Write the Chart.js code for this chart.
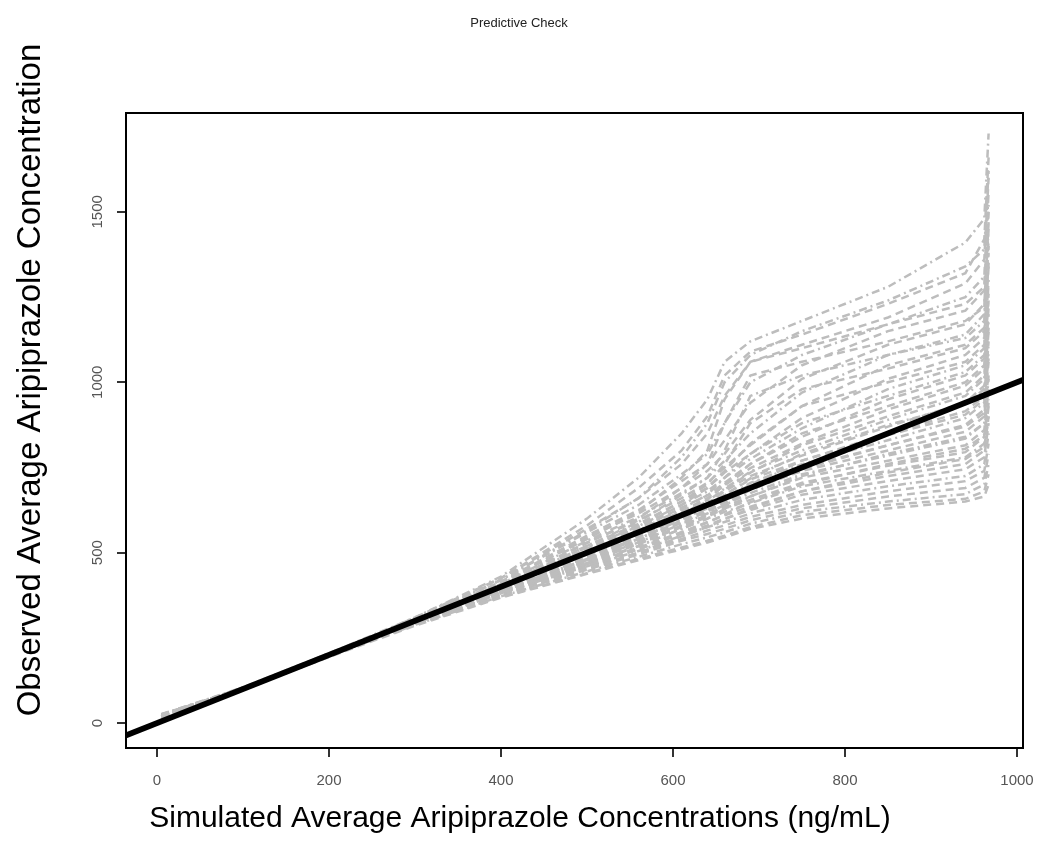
<!DOCTYPE html>
<html>
<head>
<meta charset="utf-8">
<title>Predictive Check</title>
<script src="https://cdn.jsdelivr.net/npm/chart.js@4.4.1/dist/chart.umd.min.js"></script>
<style>
  body { margin: 0; background: #fff; }
  canvas { display: block; }
</style>
</head>
<body>
<canvas id="chart" width="1040" height="861"></canvas>
<script>
// simulated concentration grid (x) shared by all grey replicate lines
const simX = [5, 100, 200, 300, 400, 500, 560, 610, 640, 660, 690, 750, 850, 940, 962, 967];

// observed quantiles for each replicate
const rep01 = [25, 105, 205, 310, 430, 600, 720, 850, 950, 1060, 1120, 1180, 1280, 1410, 1480, 1730];
const rep02 = [20, 100, 205, 305, 425, 580, 690, 800, 900, 1020, 1090, 1140, 1230, 1320, 1420, 1660];
const rep03 = [22, 98, 198, 310, 425, 570, 660, 760, 850, 960, 1060, 1110, 1190, 1290, 1360, 1600];
const rep04 = [18, 102, 202, 300, 420, 560, 640, 730, 790, 880, 1000, 1080, 1170, 1250, 1310, 1560];
const rep05 = [24, 104, 196, 302, 415, 550, 625, 710, 760, 830, 940, 1050, 1150, 1210, 1270, 1500];
const rep06 = [20, 99, 201, 298, 410, 545, 615, 690, 740, 790, 890, 1010, 1110, 1170, 1230, 1450];
const rep07 = [26, 103, 199, 304, 408, 535, 605, 675, 720, 770, 850, 970, 1080, 1140, 1200, 1400];
const rep08 = [21, 101, 203, 299, 405, 530, 595, 660, 705, 750, 815, 930, 1050, 1110, 1160, 1380];
const rep09 = [19, 97, 197, 301, 402, 520, 585, 650, 690, 735, 790, 895, 1010, 1080, 1130, 1340];
const rep10 = [23, 103, 200, 296, 404, 515, 578, 640, 680, 720, 775, 865, 980, 1050, 1100, 1300];
const rep11 = [20, 100, 202, 303, 398, 508, 570, 632, 668, 705, 760, 840, 950, 1020, 1070, 1260];
const rep12 = [25, 98, 198, 297, 401, 503, 562, 622, 660, 698, 748, 820, 920, 990, 1040, 1220];
const rep13 = [18, 101, 201, 300, 396, 498, 556, 615, 650, 688, 738, 800, 890, 960, 1010, 1180];
const rep14 = [22, 104, 199, 302, 399, 503, 552, 612, 645, 680, 725, 785, 870, 940, 990, 1150];
const rep15 = [21, 99, 196, 298, 392, 490, 545, 605, 640, 670, 715, 770, 850, 915, 960, 1120];
const rep16 = [24, 102, 203, 301, 397, 495, 540, 600, 630, 660, 705, 760, 830, 895, 940, 1090];
const rep17 = [19, 100, 200, 295, 390, 485, 538, 595, 625, 650, 695, 750, 815, 875, 920, 1060];
const rep18 = [23, 97, 197, 299, 394, 480, 535, 590, 620, 645, 685, 740, 800, 855, 900, 1030];
const rep19 = [20, 103, 201, 296, 388, 478, 530, 585, 615, 640, 675, 730, 785, 835, 880, 1010];
const rep20 = [26, 99, 199, 300, 391, 482, 528, 580, 610, 635, 665, 720, 770, 815, 860, 980];
const rep21 = [18, 101, 198, 293, 385, 475, 525, 575, 605, 630, 655, 705, 755, 795, 840, 950];
const rep22 = [22, 98, 202, 297, 387, 470, 520, 570, 600, 620, 645, 695, 740, 780, 820, 930];
const rep23 = [21, 102, 196, 294, 383, 468, 515, 560, 590, 610, 635, 680, 725, 760, 800, 900];
const rep24 = [24, 100, 200, 291, 380, 465, 510, 555, 580, 600, 625, 670, 710, 745, 780, 880];
const rep25 = [19, 97, 197, 295, 382, 460, 505, 550, 575, 590, 615, 655, 695, 725, 760, 850];
const rep26 = [23, 103, 199, 290, 378, 455, 500, 540, 565, 580, 605, 640, 680, 710, 740, 820];
const rep27 = [20, 99, 195, 292, 375, 450, 495, 535, 555, 570, 595, 630, 665, 690, 720, 790];
const rep28 = [25, 101, 198, 288, 372, 445, 488, 525, 545, 560, 585, 620, 650, 672, 700, 760];
const rep29 = [18, 98, 196, 290, 370, 440, 482, 515, 535, 550, 575, 610, 640, 658, 680, 730];
const rep30 = [22, 100, 194, 286, 368, 438, 478, 510, 530, 545, 570, 600, 630, 650, 665, 700];
const rep31 = [20, 102, 204, 306, 420, 565, 660, 780, 880, 1000, 1080, 1150, 1240, 1340, 1390, 1620];
const rep32 = [23, 99, 201, 303, 412, 540, 620, 720, 800, 950, 1060, 1100, 1170, 1230, 1280, 1520];
const rep33 = [21, 101, 199, 300, 406, 528, 600, 690, 760, 880, 1020, 1060, 1120, 1180, 1220, 1470];
const rep34 = [24, 98, 202, 298, 403, 520, 590, 670, 720, 800, 960, 1020, 1080, 1130, 1180, 1420];
const rep35 = [19, 103, 197, 302, 400, 512, 580, 650, 700, 760, 880, 980, 1040, 1100, 1150, 1350];
const rep36 = [22, 100, 200, 297, 398, 506, 575, 640, 690, 740, 820, 930, 1000, 1060, 1110, 1290];
const rep37 = [25, 97, 203, 301, 395, 500, 566, 628, 670, 720, 790, 880, 960, 1030, 1080, 1240];
const rep38 = [20, 104, 198, 299, 393, 493, 558, 618, 655, 700, 760, 850, 930, 1000, 1050, 1200];
const rep39 = [18, 99, 201, 296, 390, 487, 548, 608, 642, 685, 735, 815, 900, 970, 1020, 1160];
const rep40 = [23, 101, 196, 303, 388, 482, 540, 598, 632, 668, 718, 790, 875, 935, 980, 1110];
const rep41 = [21, 102, 200, 294, 386, 476, 532, 588, 622, 655, 700, 770, 845, 905, 950, 1070];
const rep42 = [24, 98, 198, 298, 384, 472, 526, 578, 610, 640, 685, 745, 815, 870, 910, 1020];
const rep43 = [19, 100, 202, 292, 381, 466, 519, 570, 600, 628, 665, 725, 790, 840, 880, 980];
const rep44 = [22, 103, 197, 295, 377, 460, 510, 560, 588, 612, 648, 700, 760, 805, 845, 940];
const rep45 = [20, 99, 199, 289, 373, 452, 500, 548, 575, 598, 630, 680, 735, 775, 810, 900];

const replicates = [rep01, rep02, rep03, rep04, rep05, rep06, rep07, rep08, rep09, rep10,
                    rep11, rep12, rep13, rep14, rep15, rep16, rep17, rep18, rep19, rep20,
                    rep21, rep22, rep23, rep24, rep25, rep26, rep27, rep28, rep29, rep30,
                    rep31, rep32, rep33, rep34, rep35, rep36, rep37, rep38, rep39, rep40,
                    rep41, rep42, rep43, rep44, rep45];

// identity line (observed = simulated)
const identityX = [-40, 1010];
const identityY = [-40, 1010];

const xTicks = [0, 200, 400, 600, 800, 1000];
const yTicks = [0, 500, 1000, 1500];

const chartTitle = 'Predictive Check';
const xTitle = 'Simulated Average Aripiprazole Concentrations (ng/mL)';
const yTitle = 'Observed Average Aripiprazole Concentration';

const FONT = '"Liberation Sans", Arial, sans-serif';

// ----------------------------------------------------
// datasets
// ----------------------------------------------------
const datasets = [{
    label: 'y = x',
    data: identityX.map((x, i) => ({ x: x, y: identityY[i] })),
    borderColor: '#000',
    borderWidth: 6,
    pointRadius: 0
}];

replicates.forEach((rep, k) => {
    datasets.push({
        label: 'rep ' + (k + 1),
        data: simX.map((x, i) => ({ x: x, y: rep[i] })),
        borderColor: '#bdbdbd',
        borderWidth: 2.5,
        borderDash: k % 3 === 0 ? [8, 4, 2, 4] : [8, 5],
        pointRadius: 0
    });
});

// frame, rotated y tick labels and titles, R style
const decorPlugin = {
    id: 'decor',
    afterDraw(chart) {
        const ctx = chart.ctx;
        const a = chart.chartArea;
        ctx.save();
        ctx.strokeStyle = '#000';
        ctx.lineWidth = 2;
        ctx.strokeRect(a.left, a.top, a.right - a.left, a.bottom - a.top);

        // y tick labels, rotated like R's las=0
        const ys = chart.scales.y;
        ctx.fillStyle = '#555';
        ctx.font = '15px ' + FONT;
        ctx.textAlign = 'center';
        ctx.textBaseline = 'middle';
        yTicks.forEach(v => {
            ctx.save();
            ctx.translate(98, ys.getPixelForValue(v));
            ctx.rotate(-Math.PI / 2);
            ctx.fillText(String(v), 0, 0);
            ctx.restore();
        });

        ctx.fillStyle = '#222';
        ctx.font = '13px ' + FONT;
        ctx.fillText(chartTitle, 519, 23);

        ctx.fillStyle = '#000';
        ctx.font = '30px ' + FONT;
        ctx.fillText(xTitle, 520, 819);

        ctx.save();
        ctx.translate(31, 380);
        ctx.rotate(-Math.PI / 2);
        ctx.font = '33px ' + FONT;
        ctx.fillText(yTitle, 0, 0);
        ctx.restore();
        ctx.restore();
    }
};

new Chart(document.getElementById('chart').getContext('2d'), {
    type: 'line',
    data: { datasets: datasets },
    options: {
        responsive: false,
        animation: false,
        devicePixelRatio: 1,
        layout: { padding: { top: 113, right: 17, left: 0, bottom: 0 } },
        plugins: {
            legend: { display: false },
            tooltip: { enabled: false }
        },
        scales: {
            x: {
                type: 'linear',
                min: -36,
                max: 1007,
                afterFit: s => { s.height = 113; s.paddingLeft = 0; s.paddingRight = 0; },
                afterBuildTicks: s => { s.ticks = xTicks.map(v => ({ value: v })); },
                grid: { drawOnChartArea: false, drawTicks: true, tickLength: 9, color: '#333', lineWidth: 2 },
                border: { display: true, color: '#000', width: 2 },
                ticks: {
                    padding: 15,
                    color: '#555',
                    font: { family: FONT, size: 15 },
                    maxRotation: 0,
                    callback: v => String(v)
                }
            },
            y: {
                type: 'linear',
                min: -73,
                max: 1790,
                afterFit: s => { s.width = 126; },
                afterBuildTicks: s => { s.ticks = yTicks.map(v => ({ value: v })); },
                grid: { drawOnChartArea: false, drawTicks: true, tickLength: 9, color: '#333', lineWidth: 2 },
                border: { display: true, color: '#000', width: 2 },
                ticks: { display: false }
            }
        }
    },
    plugins: [decorPlugin]
});
</script>
</body>
</html>
